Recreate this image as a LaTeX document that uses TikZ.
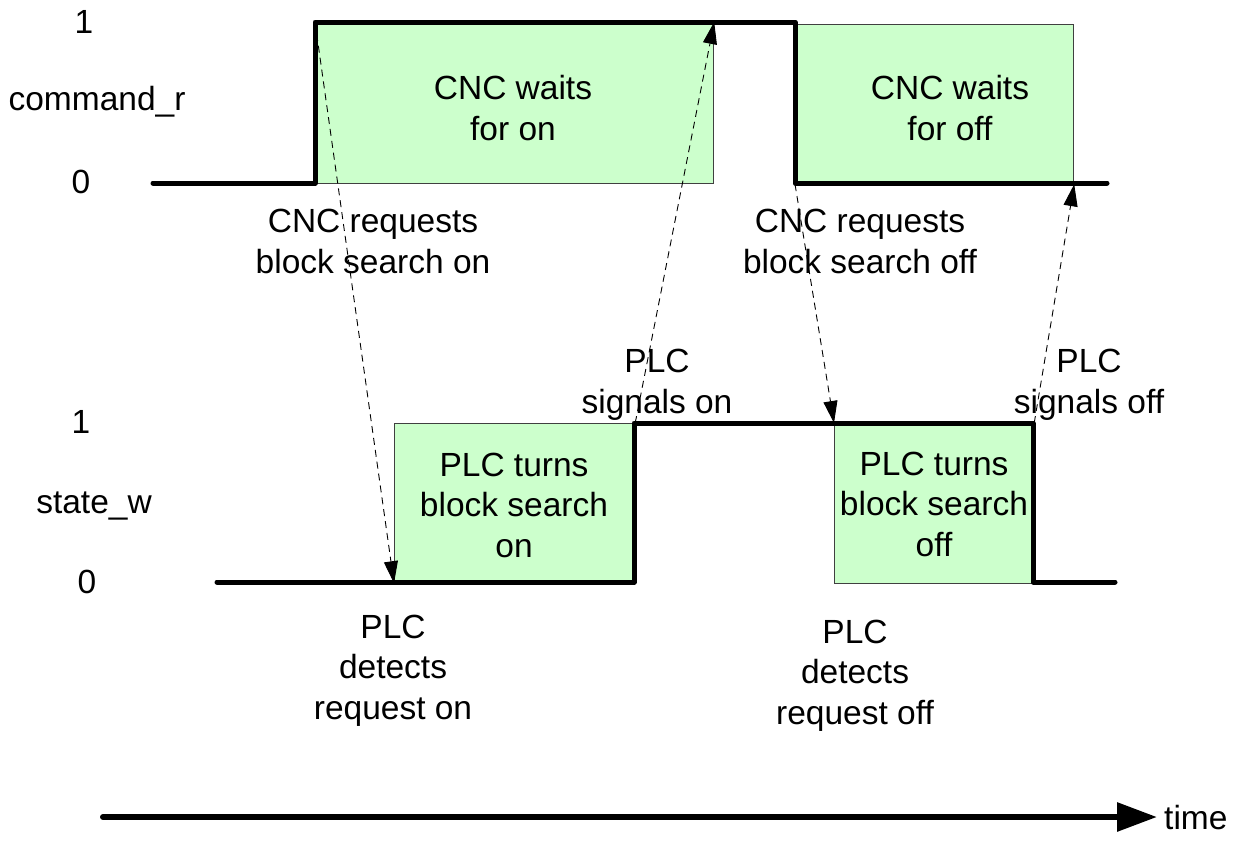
\documentclass[tikz,border=0pt]{standalone}
\usepackage{fontspec}
\setmainfont{Liberation Sans}
\usetikzlibrary{arrows.meta}
\definecolor{boxgreen}{HTML}{CCFFCC}
\begin{document}
\begin{tikzpicture}[x=1pt,y=-1pt,
  sig/.style={line width=5pt, line join=round, line cap=round},
  pbox/.style={draw=black!75, line width=1.2pt, fill=boxgreen, inner sep=0pt, anchor=north west},
  lbl/.style={font=\fontsize{33.5}{40.5}\selectfont, align=center, inner sep=0pt, anchor=base},
  darrow/.style={dashed, dash pattern=on 7pt off 5pt, line width=0.9pt, -{Triangle[length=22pt,width=14pt]}}
]
\useasboundingbox (0,0) rectangle (1239,857);
% boxes
\node[pbox, minimum width=398pt, minimum height=161pt] (b1) at (315,22) {};
\node[pbox, minimum width=278pt, minimum height=159pt] (b2) at (795,24) {};
\node[pbox, minimum width=240pt, minimum height=159pt] (b3) at (394,423) {};
\node[pbox, minimum width=199pt, minimum height=160pt] (b4) at (834,423) {};
% box texts (anchor = baseline of last line)
\node[lbl] (t1) at (513,140) {CNC waits\\for on};
\node[lbl] (t2) at (950,140) {CNC waits\\for off};
\node[lbl] (t3) at (514,557) {PLC turns\\block search\\on};
\node[lbl] (t4) at (934,556) {PLC turns\\block search\\off};
% signal corners
\coordinate (a0) at (153,183);
\coordinate (a1) at (315,183);
\coordinate (a2) at (315,22);
\coordinate (a3) at (795,22);
\coordinate (a4) at (795,183);
\coordinate (a5) at (1107,183);
\coordinate (s0) at (217,582);
\coordinate (s1) at (634,582);
\coordinate (s2) at (634,423);
\coordinate (s3) at (1033,423);
\coordinate (s4) at (1033,582);
\coordinate (s5) at (1115,582);
\draw[sig] (a0) -- (a1) -- (a2) -- (a3) -- (a4) -- (a5);
\draw[sig] (s0) -- (s1) -- (s2) -- (s3) -- (s4) -- (s5);
% dashed arrows
\draw[darrow] (b1.north west) -- (b3.south west);
\draw[darrow] (b3.north east) -- (b1.north east);
\draw[darrow] (b2.south west) -- (b4.north west);
\draw[darrow] (b4.north east) -- (b2.south east);
% axis labels
\node[lbl] (one1) at (84,33) {1};
\node[lbl] (cmd) at (97,110) {command\_r};
\node[lbl] (zero1) at (81,193) {0};
\node[lbl] (one2) at (81,433) {1};
\node[lbl] (st) at (94,513) {state\_w};
\node[lbl] (zero2) at (87,593) {0};
% annotations
\node[lbl] (n1) at (373,273) {CNC requests\\block search on};
\node[lbl] (n2) at (860,273) {CNC requests\\block search off};
\node[lbl] (n3) at (657,413) {PLC\\signals on};
\node[lbl] (n4) at (1089,413) {PLC\\signals off};
\node[lbl] (n5) at (393,719) {PLC\\detects\\request on};
\node[lbl] (n6) at (855,724) {PLC\\detects\\request off};
% time axis
\coordinate (ts) at (103,817);
\coordinate (te) at (1157,817);
\node[lbl, anchor=base west] (time) at (1164,829) {time};
\draw[line width=6pt, line cap=round, -{Triangle[length=40pt,width=28pt]}] (ts) -- (te);
\end{tikzpicture}
\end{document}
